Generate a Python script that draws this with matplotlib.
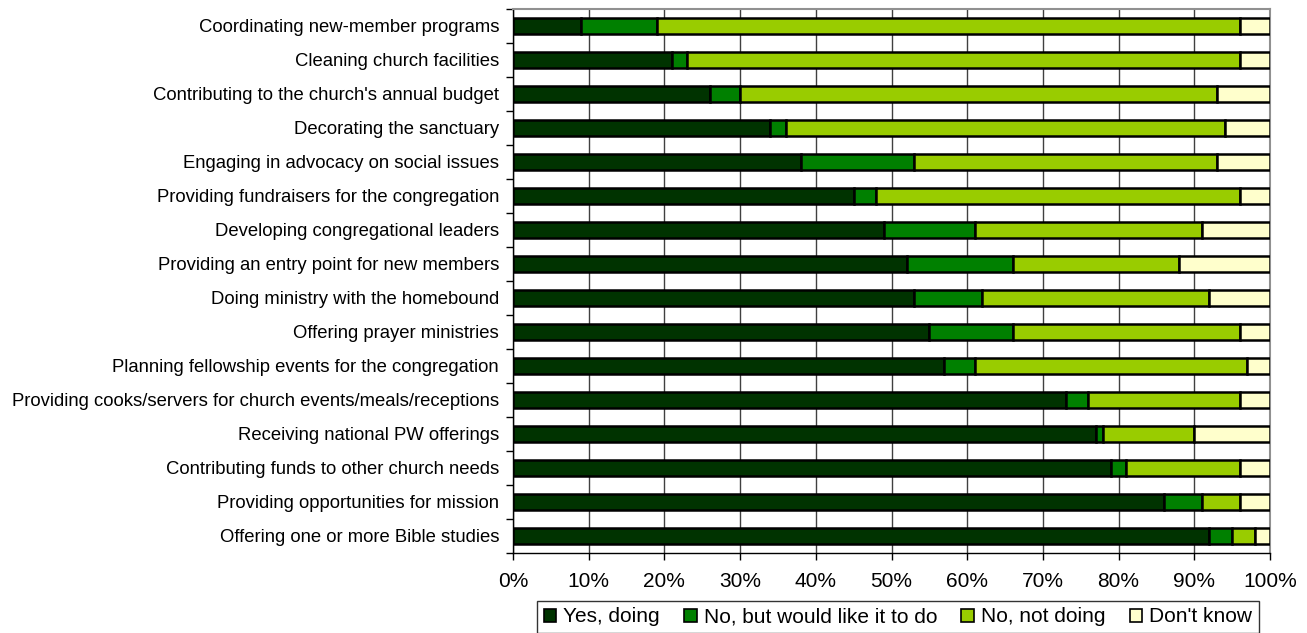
import matplotlib.pyplot as plt
import numpy as np

plt.rcParams['font.family'] = ['Liberation Sans', 'DejaVu Sans']

activities = [
    "Coordinating new-member programs",
    "Cleaning church facilities",
    "Contributing to the church's annual budget",
    "Decorating the sanctuary",
    "Engaging in advocacy on social issues",
    "Providing fundraisers for the congregation",
    "Developing congregational leaders",
    "Providing an entry point for new members",
    "Doing ministry with the homebound",
    "Offering prayer ministries",
    "Planning fellowship events for the congregation",
    "Providing cooks/servers for church events/meals/receptions",
    "Receiving national PW offerings",
    "Contributing funds to other church needs",
    "Providing opportunities for mission",
    "Offering one or more Bible studies",
]

yes_doing =      [9, 21, 26, 34, 38, 45, 49, 52, 53, 55, 57, 73, 77, 79, 86, 92]
would_like =     [10, 2, 4, 2, 15, 3, 12, 14, 9, 11, 4, 3, 1, 2, 5, 3]
not_doing =      [77, 73, 63, 58, 40, 48, 30, 22, 30, 30, 36, 20, 12, 15, 5, 3]
dont_know =      [4, 4, 7, 6, 7, 4, 9, 12, 8, 4, 3, 4, 10, 4, 4, 2]

series = [
    ("Yes, doing", yes_doing, "#003300"),
    ("No, but would like it to do", would_like, "#008000"),
    ("No, not doing", not_doing, "#99CC00"),
    ("Don't know", dont_know, "#FFFFCC"),
]

fig = plt.figure(figsize=(13.07, 6.33), dpi=100)
ax = fig.add_axes([513 / 1307, 1 - 553 / 633, 757 / 1307, 544 / 633])

y = np.arange(len(activities))
left = np.zeros(len(activities))
for name, vals, color in series:
    vals = np.array(vals, dtype=float)
    ax.barh(y, vals, left=left, height=0.45, color=color, edgecolor="black",
            linewidth=1.8, label=name, zorder=3)
    left += vals

ax.set_xlim(0, 100)
ax.set_ylim(len(activities) - 0.5, -0.5)
ax.set_xticks(np.arange(0, 101, 10))
ax.set_xticklabels([f"{v}%" for v in range(0, 101, 10)], fontsize=15)
ax.set_yticks(y)
ax.set_yticklabels(activities, fontsize=13.3)
ax.tick_params(axis="y", length=0, pad=10)
ax.set_yticks(np.arange(-0.5, len(activities)), minor=True)
ax.tick_params(axis="y", which="minor", length=5, width=1, direction="out")
ax.tick_params(axis="x", length=5, width=1, direction="out", pad=9)

ax.grid(axis="x", color="#404040", linewidth=1, zorder=0)
for side in ("top", "right"):
    ax.spines[side].set_color("#909090")
    ax.spines[side].set_linewidth(1.5)
for side in ("left", "bottom"):
    ax.spines[side].set_color("black")
    ax.spines[side].set_linewidth(1)

leg = fig.legend(loc="center", bbox_to_anchor=(898 / 1307, 1 - 617 / 633), ncol=4,
                 fontsize=15, frameon=True, fancybox=False, edgecolor="black",
                 handlelength=0.6, handleheight=0.6, handletextpad=0.35,
                 columnspacing=1.15, borderpad=0.3)
leg.get_frame().set_linewidth(1)
for h in leg.legend_handles:
    h.set_linewidth(1.2)

fig.savefig("out.png", dpi=100)
